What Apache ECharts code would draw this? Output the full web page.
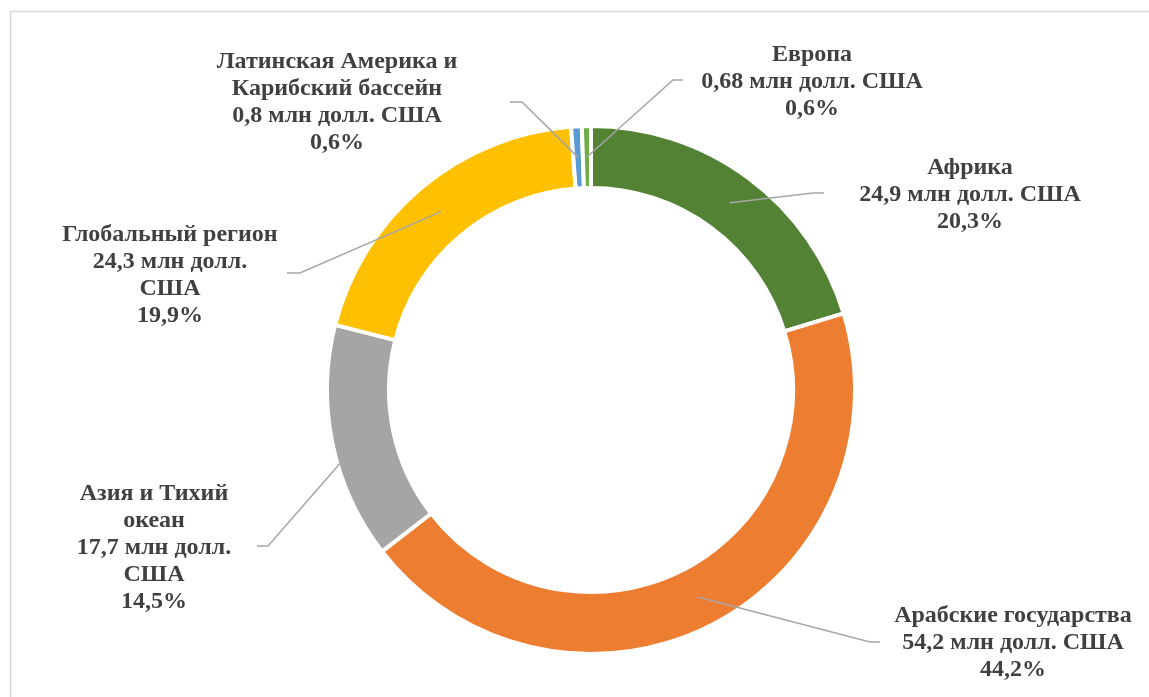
<!DOCTYPE html>
<html>
<head>
<meta charset="utf-8">
<script src="https://cdn.jsdelivr.net/npm/echarts@6/dist/echarts.min.js"></script>
<style>
html,body{margin:0;padding:0;background:#fff;}
#chart{width:1149px;height:697px;}
</style>
</head>
<body>
<div id="chart"></div>
<script>
// Data
var regions = ['Африка', 'Арабские государства', 'Азия и Тихий\nокеан', 'Глобальный регион', 'Латинская Америка и\nКарибский бассейн', 'Европа'];
var amounts = [24.9, 54.2, 17.7, 24.3, 0.8, 0.68];
var amountText = ['24,9', '54,2', '17,7', '24,3', '0,8', '0,68'];
var shareText = ['20,3%', '44,2%', '14,5%', '19,9%', '0,6%', '0,6%'];
var unitText = ['млн долл. США', 'млн долл. США', 'млн долл.\nСША', 'млн долл.\nСША', 'млн долл. США', 'млн долл. США'];
var colors = ['#548235', '#ED7D31', '#A5A5A5', '#FFC000', '#5B9BD5', '#70AD47'];

// Label placement (text anchor: centre x, first line centre y) and leader-line elbows
var labelAnchor = [[970, 168], [1013, 616], [154, 494], [170, 235], [337, 62], [812, 55]];
var lineElbow = [[[813, 193], [824, 193]], [[870, 642], [880, 642]], [[268, 546], [257, 546]],
                 [[300, 273], [287, 273]], [[522, 102], [510, 102]], [[673, 80], [683, 80]]];

var CX = 591, CY = 390, R0 = 202, R1 = 264, RMID = 233;
var LH = 27;

var chart = echarts.init(document.getElementById('chart'));
var total = amounts.reduce(function (a, b) { return a + b; }, 0);

function startPoint(params) {
  var p = params.labelLinePoints && params.labelLinePoints[0];
  if (p) {
    var dx = p[0] - CX, dy = p[1] - CY;
    var len = Math.sqrt(dx * dx + dy * dy) || 1;
    return [CX + dx / len * RMID, CY + dy / len * RMID];
  }
  var cum = 0;
  for (var i = 0; i < params.dataIndex; i++) cum += amounts[i];
  var a = (cum + amounts[params.dataIndex] / 2) / total * 2 * Math.PI;
  return [CX + Math.sin(a) * RMID, CY - Math.cos(a) * RMID];
}

var pieData = regions.map(function (n, i) {
  return { name: n, value: amounts[i], itemStyle: { color: colors[i] } };
});
var labelData = regions.map(function (n, i) {
  return { name: n, value: amounts[i] };
});

chart.setOption({
  animation: false,
  backgroundColor: '#ffffff',
  graphic: [{
    type: 'rect',
    shape: { x: 10.5, y: 11.5, width: 1300, height: 900 },
    style: { fill: 'none', stroke: '#d9d9d9', lineWidth: 1.5 },
    silent: true
  }],
  series: [{
    type: 'pie',
    z: 2,
    center: [CX, CY],
    radius: [R0, R1],
    startAngle: 90,
    clockwise: true,
    silent: true,
    itemStyle: { borderColor: '#ffffff', borderWidth: 4 },
    emphasis: { disabled: true },
    label: { show: false },
    labelLine: { show: false },
    data: pieData
  }, {
    type: 'pie',
    z: 5,
    center: [CX, CY],
    radius: [R0, R1],
    startAngle: 90,
    clockwise: true,
    silent: true,
    avoidLabelOverlap: false,
    itemStyle: { color: 'rgba(0,0,0,0)', borderWidth: 0 },
    emphasis: { disabled: true },
    label: {
      show: true,
      position: 'outside',
      fontFamily: 'Liberation Serif',
      fontWeight: 'bold',
      fontSize: 24,
      lineHeight: LH,
      color: '#404040',
      align: 'center',
      formatter: function (p) {
        var i = p.dataIndex;
        return regions[i] + '\n' + amountText[i] + ' ' + unitText[i] + '\n' + shareText[i];
      }
    },
    labelLine: {
      show: true,
      length: 10,
      length2: 10,
      lineStyle: { color: '#A6A6A6', width: 1.5 }
    },
    labelLayout: function (params) {
      var i = params.dataIndex;
      var s = startPoint(params);
      return {
        x: labelAnchor[i][0],
        y: labelAnchor[i][1] - LH / 2,
        align: 'center',
        verticalAlign: 'top',
        labelLinePoints: [s, lineElbow[i][0], lineElbow[i][1]]
      };
    },
    data: labelData
  }]
});
</script>
</body>
</html>
